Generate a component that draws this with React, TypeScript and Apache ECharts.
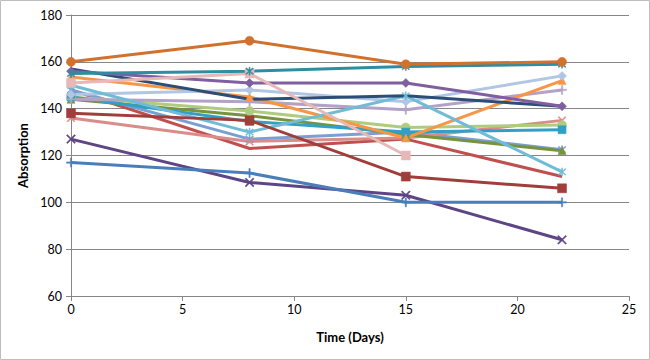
import React, { useEffect, useRef } from "react";
import * as echarts from "echarts";

const days = [0, 8, 15, 22];

const blueA = [117, 112.5, 100, 100];
const darkPurpleA = [127, 108.5, 103, 84];
const darkRedA = [138, 135, 111, 106];
const redA = [148, 123, 127, 111];
const brownA = [160, 169, 159, 160];
const tealA = [155, 156, 158, 159];
const pinkA = [151, 155, 120, null];
const purpleA = [156, 151, 151, 141];
const navyA = [157, 144, 145.5, 141];
const lightBlueA = [146, 148, 143, 154];
const orangeA = [153.5, 145, 127.5, 152];
const lightPurpleA = [144, 143, 139.5, 148];
const aquaA = [150, 130, 145.5, 113];
const greenA = [145, 139, 132, 133];
const darkGreenA = [144, 137, 129, 122];
const steelA = [145, 134.5, 130, 131];
const midBlueA = [148, 127, 130, 122.5];
const salmonA = [136, 126, 127.5, 135];

const yTicks = { min: 60, max: 180, step: 20 };
const xTicks = { min: 0, max: 25, step: 5 };

const X_SYM = "path://M0,1L1,0L5,4L9,0L10,1L6,5L10,9L9,10L5,6L1,10L0,9L4,5Z";
const PLUS_SYM = "path://M4.3,0H5.7V4.3H10V5.7H5.7V10H4.3V5.7H0V4.3H4.3Z";
const STAR_SYM =
  "path://M0,1L1,0L5,4L9,0L10,1L6,5L10,9L9,10L5,6L1,10L0,9L4,5Z M4.4,-1H5.6V11H4.4Z";

type S = { name: string; vals: (number | null)[]; color: string; symbol: string; size: number };

const seriesDefs: S[] = [
  { name: "A", vals: redA, color: "#C0504D", symbol: "none", size: 0 },
  { name: "B", vals: midBlueA, color: "#7A9FD2", symbol: STAR_SYM, size: 8 },
  { name: "C", vals: salmonA, color: "#D98C8A", symbol: X_SYM, size: 8 },
  { name: "D", vals: darkGreenA, color: "#77933C", symbol: "triangle", size: 8 },
  { name: "E", vals: greenA, color: "#AFCB7E", symbol: "circle", size: 9 },
  { name: "F", vals: steelA, color: "#31A0C6", symbol: "rect", size: 8 },
  { name: "G", vals: lightPurpleA, color: "#B3A2C7", symbol: PLUS_SYM, size: 9 },
  { name: "H", vals: orangeA, color: "#F79646", symbol: "triangle", size: 8 },
  { name: "I", vals: lightBlueA, color: "#B0C6E4", symbol: "diamond", size: 9 },
  { name: "J", vals: aquaA, color: "#70BCD6", symbol: STAR_SYM, size: 8 },
  { name: "K", vals: navyA, color: "#2C4D75", symbol: "none", size: 0 },
  { name: "L", vals: purpleA, color: "#7F5FA0", symbol: "diamond", size: 9 },
  { name: "M", vals: pinkA, color: "#E6B9B8", symbol: "rect", size: 9 },
  { name: "N", vals: tealA, color: "#2E8DA0", symbol: STAR_SYM, size: 8 },
  { name: "O", vals: brownA, color: "#D0722E", symbol: "circle", size: 9 },
  { name: "P", vals: darkRedA, color: "#A03E3B", symbol: "rect", size: 9 },
  { name: "Q", vals: darkPurpleA, color: "#5E4585", symbol: X_SYM, size: 9 },
  { name: "R", vals: blueA, color: "#4A7EBB", symbol: PLUS_SYM, size: 9 },
];

export default function App() {
  const ref = useRef<HTMLDivElement>(null);
  useEffect(() => {
    const el = ref.current;
    if (!el) return;
    const chart = echarts.init(el, null, { renderer: "svg" });
    const font = "Lato, 'Open Sans', sans-serif";
    chart.setOption({
      animation: false,
      backgroundColor: "#ffffff",
      textStyle: { fontFamily: font },
      grid: { left: 71, right: 21, top: 15, bottom: 64, containLabel: false },
      graphic: [
        {
          type: "rect",
          shape: { x: 0.5, y: 0.5, width: 649, height: 359 },
          style: { fill: "none", stroke: "#BDBDBD", lineWidth: 1 },
          silent: true,
        },
      ],
      xAxis: {
        type: "value",
        min: xTicks.min,
        max: xTicks.max,
        interval: xTicks.step,
        name: "Time (Days)",
        nameLocation: "middle",
        nameGap: 34,
        nameTextStyle: { fontFamily: font, fontSize: 13, fontWeight: "bold", color: "#000" },
        axisLine: { show: true, lineStyle: { color: "#868686", width: 1 } },
        axisTick: { show: true, inside: false, length: 5, lineStyle: { color: "#868686" } },
        axisLabel: { fontFamily: font, fontSize: 12.5, color: "#000", margin: 7 },
        splitLine: { show: false },
      },
      yAxis: {
        type: "value",
        min: yTicks.min,
        max: yTicks.max,
        interval: yTicks.step,
        name: "Absorption",
        nameLocation: "middle",
        nameGap: 41,
        nameRotate: 90,
        nameTextStyle: { fontFamily: font, fontSize: 13, fontWeight: "bold", color: "#000" },
        axisLine: { show: true, lineStyle: { color: "#868686", width: 1 } },
        axisTick: { show: true, inside: false, length: 5, lineStyle: { color: "#868686" } },
        axisLabel: { fontFamily: font, fontSize: 12.5, color: "#000", margin: 9 },
        splitLine: { show: true, lineStyle: { color: "#868686", width: 1 } },
      },
      series: seriesDefs.map((s) => ({
        type: "line",
        name: s.name,
        data: days
          .map((d, i) => [d, s.vals[i]])
          .filter((p) => p[1] !== null),
        symbol: s.symbol,
        symbolSize: s.size,
        showSymbol: s.symbol !== "none",
        lineStyle: { color: s.color, width: 3 },
        itemStyle: { color: s.color, borderColor: s.color, borderWidth: 0.5 },
        z: 2,
      })),
    });
    return () => chart.dispose();
  }, []);
  return (
    <div
      ref={ref}
      style={{ position: "fixed", left: 0, top: 0, width: 650, height: 360 }}
    />
  );
}
